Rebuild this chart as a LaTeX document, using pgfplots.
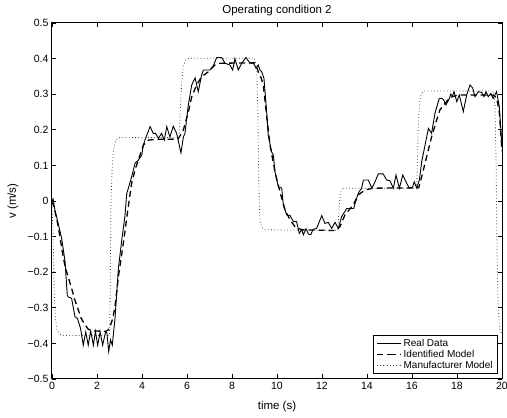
\documentclass[border=0pt]{standalone}
\usepackage{fontspec}
\setmainfont{Liberation Sans}
\usepackage{pgfplots}
\pgfplotsset{compat=1.18}
\begin{document}
\begin{tikzpicture}
\begin{axis}[
  scale only axis, width=450pt, height=356pt,
  xmin=0, xmax=20, ymin=-0.5, ymax=0.5,
  xtick={0,2,4,6,8,10,12,14,16,18,20},
  xticklabels={0,2,4,6,8,10,12,14,16,18,20},
  ytick={-0.5,-0.4,-0.3,-0.2,-0.1,0,0.1,0.2,0.3,0.4,0.5},
  yticklabels={−0.5,−0.4,−0.3,−0.2,−0.1,0,0.1,0.2,0.3,0.4,0.5},
  tick align=inside, tick pos=both, major tick length=4.5pt,
  tick style={line width=0.7pt, black},
  axis line style={line width=1pt, black},
  ticklabel style={font=\fontsize{10.5}{12}\selectfont},
  clip mode=individual,
  xlabel={time (s)},
  xlabel style={at={(axis description cs:0.5,-0.087)}, anchor=base, inner sep=0pt, font=\fontsize{11.5}{13}\selectfont},
  ylabel={v (m/s)},
  ylabel style={at={(axis description cs:-0.0867,0.5)}, anchor=center, rotate=0, inner sep=0pt, font=\fontsize{11.5}{13}\selectfont},
  legend style={at={(axis description cs:0.991,0.014)}, anchor=south east, draw=black, line width=0.7pt,
    font=\fontsize{10}{11}\selectfont, inner xsep=3pt, inner ysep=1.5pt, row sep=-1.5pt, cells={anchor=west}},
  legend image code/.code={\path (0pt,0pt) -- (13pt,0pt); \draw[#1] (13pt,0pt) -- (24pt,0pt);},
]
\addplot[black, line width=0.9pt] coordinates {
(0,0) (0.05,0.006) (0.13,-0.025) (0.3,-0.07) (0.43,-0.105) (0.58,-0.17) (0.68,-0.265) (0.73,-0.27) (0.87,-0.273)
(1.02,-0.325) (1.13,-0.33) (1.27,-0.358) (1.39,-0.405) (1.5,-0.368) (1.61,-0.405) (1.72,-0.365)
(1.84,-0.405) (1.93,-0.366) (2.03,-0.405) (2.14,-0.368) (2.25,-0.405) (2.38,-0.368) (2.44,-0.37)
(2.52,-0.423) (2.6,-0.39) (2.68,-0.405) (2.8,-0.33) (2.95,-0.19) (3.1,-0.11) (3.24,-0.044)
(3.32,0.02) (3.54,0.068) (3.69,0.106) (3.84,0.115) (3.99,0.129) (4.06,0.157) (4.13,0.171)
(4.36,0.209) (4.5,0.19) (4.6,0.19) (4.73,0.176) (4.87,0.19) (4.99,0.171) (5.1,0.209) (5.24,0.18)
(5.39,0.21) (5.54,0.19) (5.73,0.135) (5.84,0.18) (5.91,0.19) (6.06,0.27) (6.21,0.326) (6.36,0.346)
(6.5,0.307) (6.65,0.354) (6.73,0.368) (7.02,0.368) (7.17,0.38) (7.32,0.403) (7.54,0.403)
(7.69,0.387) (7.91,0.382) (8.03,0.368) (8.13,0.4) (8.28,0.368) (8.43,0.387) (8.62,0.403)
(8.8,0.387) (8.95,0.387) (9.07,0.373) (9.17,0.382) (9.24,0.368) (9.32,0.363) (9.42,0.345)
(9.54,0.25) (9.61,0.185) (9.76,0.138) (9.84,0.129) (9.91,0.082) (10.06,0.04) (10.21,0.036)
(10.28,-0.011) (10.43,-0.039) (10.58,-0.041) (10.73,-0.058) (10.87,-0.058) (10.99,-0.091)
(11.1,-0.08) (11.17,-0.095) (11.29,-0.078) (11.4,-0.093) (11.5,-0.095) (11.6,-0.08) (11.76,-0.077)
(11.99,-0.041) (12.13,-0.063) (12.28,-0.06) (12.43,-0.077) (12.58,-0.06) (12.73,-0.077)
(12.87,-0.044) (13.1,-0.021) (13.41,-0.021) (13.47,-0.007) (13.61,0.022) (13.76,0.036)
(13.84,0.059) (14.06,0.059) (14.21,0.036) (14.36,0.054) (14.5,0.076) (14.72,0.076) (14.87,0.059)
(15.02,0.057) (15.17,0.036) (15.29,0.073) (15.44,0.036) (15.59,0.073) (15.73,0.054) (15.88,0.036)
(16.03,0.04) (16.1,0.054) (16.21,0.036) (16.33,0.06) (16.43,0.11) (16.58,0.157) (16.73,0.204)
(16.87,0.19) (17.02,0.246) (17.21,0.288) (17.32,0.288) (17.4,0.285) (17.51,0.27) (17.66,0.288)
(17.72,0.3) (17.8,0.295) (17.87,0.307) (17.99,0.279) (18.1,0.298) (18.28,0.251) (18.43,0.298)
(18.58,0.326) (18.7,0.317) (18.8,0.293) (18.95,0.307) (19.1,0.305) (19.2,0.293) (19.29,0.307)
(19.39,0.293) (19.5,0.302) (19.61,0.288) (19.76,0.307) (19.88,0.265) (20,0.15)
};
\addlegendentry{Real Data}
\addplot[black, line width=1.3pt, dash pattern=on 6pt off 4pt] coordinates {
(0,0) (0.1,-0.02) (0.28,-0.072) (0.45,-0.14) (0.58,-0.184) (0.75,-0.22) (0.87,-0.245) (1.0,-0.275)
(1.17,-0.306) (1.3,-0.33) (1.47,-0.348) (1.61,-0.36) (1.8,-0.365) (2.4,-0.366) (2.5,-0.362)
(2.58,-0.353) (2.7,-0.33) (2.8,-0.297) (2.95,-0.213) (3.17,-0.119) (3.39,-0.016) (3.54,0.05)
(3.7,0.09) (3.84,0.115) (4.06,0.157) (4.28,0.171) (4.6,0.173) (5.6,0.174) (5.76,0.19) (5.84,0.2)
(6.06,0.25) (6.21,0.293) (6.43,0.326) (6.65,0.349) (6.95,0.363) (7.24,0.382) (7.47,0.387)
(9.0,0.388) (9.1,0.375) (9.17,0.363) (9.3,0.345) (9.39,0.326) (9.54,0.24) (9.69,0.157)
(9.91,0.082) (10.13,0.026) (10.36,-0.025) (10.58,-0.053) (10.8,-0.072) (11.1,-0.081)
(12.6,-0.083) (12.8,-0.072) (13.02,-0.039) (13.39,-0.011) (13.61,0.017) (13.91,0.031)
(14.28,0.036) (16.3,0.037) (16.43,0.068) (16.65,0.124) (16.87,0.18) (17.1,0.228) (17.24,0.256)
(17.47,0.274) (17.69,0.291) (18.06,0.298) (19.6,0.298) (19.76,0.29) (19.88,0.25) (20,0.14)
};
\addlegendentry{Identified Model}
\addplot[black!75, line width=0.8pt, dash pattern=on 0.8pt off 2.4pt] coordinates {
(0,0) (0.05,-0.1) (0.1,-0.25) (0.15,-0.33) (0.22,-0.36) (0.32,-0.372) (0.45,-0.378)
(2.55,-0.378) (2.58,-0.3) (2.62,0) (2.68,0.1) (2.75,0.15) (2.85,0.172) (3.0,0.178)
(5.65,0.178) (5.7,0.25) (5.76,0.33) (5.84,0.38) (5.95,0.397) (6.1,0.401)
(9.0,0.401) (9.1,0.37) (9.15,0.25) (9.19,0.05) (9.24,-0.05) (9.32,-0.074) (9.47,-0.081)
(12.7,-0.082) (12.74,-0.05) (12.78,0.0) (12.85,0.028) (12.95,0.036)
(16.2,0.036) (16.24,0.1) (16.28,0.22) (16.34,0.28) (16.42,0.302) (16.55,0.309)
(19.62,0.309) (19.68,0.28) (19.74,0.1) (19.78,-0.15) (19.83,-0.3) (19.9,-0.36) (20,-0.376)
};
\addlegendentry{Manufacturer Model}
\node[anchor=base, inner sep=0pt, font=\fontsize{11.5}{13}\selectfont] at (rel axis cs:0.5,1.028) {Operating condition 2};
\end{axis}
\pgfresetboundingbox
\path[use as bounding box] (-52pt,-39pt) rectangle (455pt,379pt);
\end{tikzpicture}
\end{document}
